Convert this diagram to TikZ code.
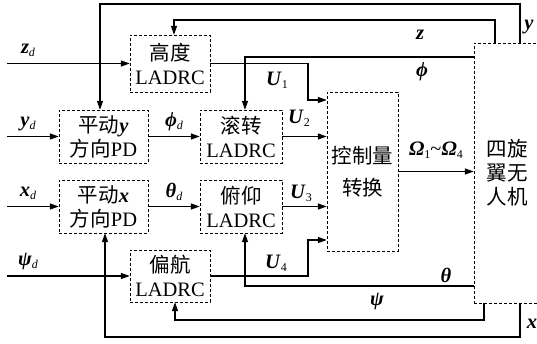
\documentclass[tikz,border=0pt]{standalone}
\usepackage{fontspec}
\setmainfont{Liberation Serif}
\newfontfamily\cjk{Noto Sans CJK SC}
\usetikzlibrary{arrows.meta}

\newcommand{\zh}[1]{{\cjk #1}}
\newcommand{\vb}[1]{\textbf{\textit{#1}}}
\newcommand{\sub}[1]{\raisebox{-3pt}{\fontsize{12}{12}\selectfont #1}}

\begin{document}
\begin{tikzpicture}[x=1pt, y=-1pt,
    font=\fontsize{20.5}{24}\selectfont,
    blk/.style={draw, densely dashed, thin, inner sep=0pt, align=center},
    sig/.style={line width=1.3pt, -{Triangle[length=9pt,width=6pt]}},
    lbl/.style={inner sep=0pt}]
  \useasboundingbox (0,0) rectangle (537,343);

  % blocks
  \node[blk, minimum width=80pt, minimum height=57pt] (alt)   at (170,63.5)   {\zh{高度}\\LADRC};
  \node[blk, minimum width=89pt, minimum height=53pt] (pdy)   at (103.5,136.5) {\zh{平动}\vb{y}\\\zh{方向}PD};
  \node[blk, minimum width=82pt, minimum height=53pt] (roll)  at (241,136.5)   {\zh{滚转}\\LADRC};
  \node[blk, minimum width=89pt, minimum height=53pt] (pdx)   at (103.5,206.5) {\zh{平动}\vb{x}\\\zh{方向}PD};
  \node[blk, minimum width=82pt, minimum height=53pt] (pitch) at (241,206.5)   {\zh{俯仰}\\LADRC};
  \node[blk, minimum width=80pt, minimum height=52pt] (yaw)   at (170,276)     {\zh{偏航}\\LADRC};
  \node[blk, minimum width=71pt, minimum height=159pt] (conv) at (362.5,171.5) {\zh{控制量}\\[8pt]\zh{转换}};
  \node[blk, minimum width=66pt, minimum height=260pt] (uav)  at (507,173)     {\zh{四旋}\\\zh{翼无}\\\zh{人机}};

  % references
  \coordinate (zd) at (7,63.5);
  \coordinate (yd) at (7,136.5);
  \coordinate (xd) at (7,206.5);
  \coordinate (psid) at (7,276);
  \draw[sig] (zd) -- (alt.west);
  \draw[sig] (yd) -- (pdy.west);
  \draw[sig] (xd) -- (pdx.west);
  \draw[sig] (psid) -- (yaw.west);
  \node[lbl] at (28,50)  {\vb{z}\sub{\itshape d}};
  \node[lbl] at (28,124) {\vb{y}\sub{\itshape d}};
  \node[lbl] at (28,193) {\vb{x}\sub{\itshape d}};
  \node[lbl] at (28,262) {\vb{ψ}\sub{\itshape d}};

  % inner loops
  \draw[sig] (pdy) -- (roll) node[lbl, midway, above=5pt] {\vb{ϕ}\sub{\itshape d}};
  \draw[sig] (pdx) -- (pitch) node[lbl, midway, above=5pt] {\vb{θ}\sub{\itshape d}};
  \draw[sig] (alt.east) -- (308,63.5) |- (conv.west |- 0,100);
  \draw[sig] (roll) -- (conv.west |- roll);
  \draw[sig] (pitch) -- (conv.west |- pitch);
  \draw[sig] (yaw.east) -- (308,276) |- (conv.west |- 0,240);
  \draw[sig] (conv.east |- 0,171.5) -- (uav.west |- 0,171.5);
  \node[lbl] at (277,80)  {\vb{U}\sub{1}};
  \node[lbl] at (299,118) {\vb{U}\sub{2}};
  \node[lbl] at (301,193) {\vb{U}\sub{3}};
  \node[lbl] at (276,263) {\vb{U}\sub{4}};
  \node[lbl] at (436,150) {\vb{Ω}\sub{1}\textasciitilde\vb{Ω}\sub{4}};

  % feedback
  \draw[sig] (uav.north -| 520,0) -- (520,4) -| ([xshift=-3.5pt]pdy.north);
  \draw[sig] (uav.north -| 495,0) -- (495,20) -| ([xshift=4pt]alt.north);
  \draw[sig] (uav.west |- 0,57) -| ([xshift=4pt]roll.north);
  \draw[sig] (uav.west |- 0,286) -| ([xshift=4pt]pitch.south);
  \draw[sig] (uav.south -| 484,0) -- (484,320) -| ([xshift=5pt]yaw.south);
  \draw[sig] (uav.south -| 520,0) -- (520,337) -| ([xshift=1.5pt]pdx.south);
  \node[lbl] at (529,27)  {\vb{y}};
  \node[lbl] at (420,35)  {\vb{z}};
  \node[lbl] at (422,72)  {\vb{ϕ}};
  \node[lbl] at (446,275) {\vb{θ}};
  \node[lbl] at (377,302) {\vb{ψ}};
  \node[lbl] at (532,324) {\vb{x}};
\end{tikzpicture}
\end{document}
